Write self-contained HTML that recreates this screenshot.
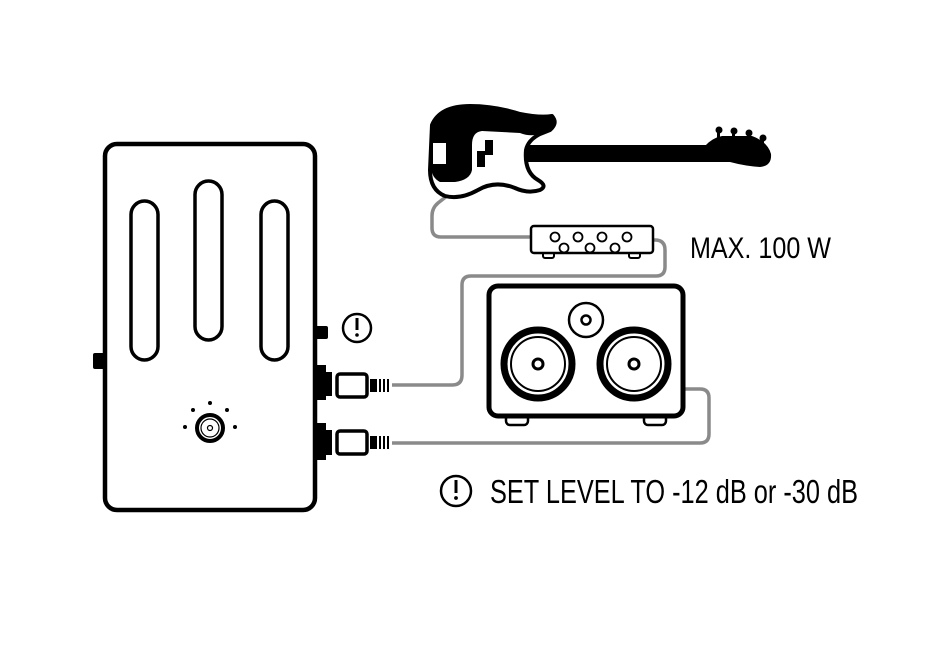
<!DOCTYPE html>
<html><head><meta charset="utf-8"><style>html,body{margin:0;padding:0;background:#fff}svg{display:block}</style></head>
<body>
<svg width="930" height="649" viewBox="0 0 930 649" xmlns="http://www.w3.org/2000/svg">
<rect width="930" height="649" fill="#fff"/>
<!-- cables -->
<g fill="none" stroke="#8a8a8a" stroke-width="3.5" stroke-linejoin="round">
<path d="M392 385 H452 Q462 385 462 375 V285 Q462 276 471 276 H656 Q665 276 665 267 V250 Q665 240 655 240 H650"/>
<path d="M392 443 H700 Q709 443 709 434 V398 Q709 389 700 389 H684"/>
<path d="M452 192 L438 203 Q432 208 432 216 V228 Q432 237 441 237 H532"/>
</g>
<!-- pedal -->
<rect x="93" y="353" width="13" height="16" rx="2" fill="#000"/>
<rect x="314" y="326" width="14" height="13" rx="2" fill="#000"/>
<rect x="105" y="144" width="210" height="366" rx="12" fill="#fff" stroke="#000" stroke-width="4.5"/>
<g fill="none" stroke="#000" stroke-width="3.5">
<rect x="131" y="201" width="27" height="159" rx="13.5"/>
<rect x="195" y="181" width="27" height="159" rx="13.5"/>
<rect x="261" y="201" width="27" height="159" rx="13.5"/>
</g>
<circle cx="210" cy="428" r="13" fill="#fff" stroke="#000" stroke-width="4"/>
<circle cx="210" cy="428" r="9" fill="none" stroke="#000" stroke-width="1.2"/>
<circle cx="210" cy="428" r="2.5" fill="none" stroke="#000" stroke-width="1.2"/>
<g fill="#000"><circle cx="185" cy="427" r="2"/><circle cx="193" cy="410" r="2"/><circle cx="210" cy="403" r="2"/><circle cx="227" cy="410" r="2"/><circle cx="235" cy="427" r="2"/></g>
<!-- jacks -->
<g fill="#000">
<path d="M316 365 H326 V372 H332 V396 H326 V400 H316Z"/>
<path d="M316 423 H326 V430 H332 V455 H326 V460 H316Z"/>
</g>
<g fill="#fff" stroke="#000" stroke-width="3.5">
<rect x="337" y="374" width="30" height="23" rx="3"/>
<rect x="337" y="431" width="30" height="23" rx="3"/>
</g>
<g fill="#000">
<rect x="370" y="379" width="7" height="13"/><rect x="379" y="379" width="2" height="13"/><rect x="383" y="379" width="2" height="13"/><rect x="387" y="379" width="2" height="13"/>
<rect x="370" y="436" width="7" height="13"/><rect x="379" y="436" width="2" height="13"/><rect x="383" y="436" width="2" height="13"/><rect x="387" y="436" width="2" height="13"/>
</g>
<!-- exclamation icons -->
<circle cx="357" cy="328" r="14" fill="none" stroke="#000" stroke-width="2.5"/>
<rect x="355.5" y="318" width="3" height="12" fill="#000"/><circle cx="357" cy="335" r="1.8" fill="#000"/>
<circle cx="456" cy="491" r="15" fill="none" stroke="#000" stroke-width="2.5"/>
<rect x="454.5" y="480" width="3" height="13" fill="#000"/><circle cx="456" cy="498" r="1.9" fill="#000"/>
<!-- cabinet -->
<rect x="506" y="412" width="22" height="13" rx="4" fill="#fff" stroke="#000" stroke-width="2.5"/>
<rect x="644" y="412" width="22" height="13" rx="4" fill="#fff" stroke="#000" stroke-width="2.5"/>
<rect x="489" y="286" width="194" height="130" rx="9" fill="#fff" stroke="#000" stroke-width="5"/>
<circle cx="586" cy="320" r="17" fill="none" stroke="#000" stroke-width="2.5"/>
<circle cx="586" cy="320" r="4.5" fill="none" stroke="#000" stroke-width="2.5"/>
<g fill="none" stroke="#000">
<circle cx="538" cy="364" r="34" stroke-width="7"/><circle cx="538" cy="364" r="27" stroke-width="2"/><circle cx="538" cy="364" r="5" stroke-width="3"/>
<circle cx="634" cy="364" r="34" stroke-width="7"/><circle cx="634" cy="364" r="27" stroke-width="2"/><circle cx="634" cy="364" r="5" stroke-width="3"/>
</g>
<!-- amp head -->
<rect x="543" y="250" width="11" height="8" rx="2" fill="#fff" stroke="#000" stroke-width="2"/>
<rect x="629" y="250" width="11" height="8" rx="2" fill="#fff" stroke="#000" stroke-width="2"/>
<rect x="531" y="226" width="122" height="27" rx="3" fill="#fff" stroke="#000" stroke-width="2.5"/>
<g fill="none" stroke="#000" stroke-width="1.8">
<circle cx="555" cy="237" r="4.5"/><circle cx="578" cy="237" r="4.5"/><circle cx="602" cy="237" r="4.5"/><circle cx="627" cy="237" r="4.5"/>
<circle cx="564" cy="248" r="4.5"/><circle cx="590" cy="248" r="4.5"/><circle cx="615" cy="248" r="4.5"/>
</g>
<!-- guitar -->
<g fill="#000">
<rect x="520" y="145" width="195" height="17"/>
<path d="M705 146 Q712 138 722 136 L752 136 Q768 142 771 154 Q772 166 760 167 Q745 166 730 162 L705 162Z"/>
<circle cx="719" cy="130" r="3.5"/><circle cx="734" cy="131" r="3.5"/><circle cx="749" cy="133" r="3.5"/><circle cx="763" cy="138" r="3.5"/>
<rect x="717" y="131" width="3" height="8"/><rect x="732" y="132" width="3" height="7"/><rect x="747" y="134" width="3" height="6"/><rect x="761" y="139" width="3" height="5"/>
</g>
<path d="M432 125 Q440 106 470 106 Q495 106 520 114 Q540 118 552 116 Q558 123 550 130 L540 134 Q528 140 526 150 Q524 172 538 180 Q548 186 540 190 Q528 194 515 188 Q495 180 478 190 Q460 200 445 196 Q430 190 430 170 Z" fill="#fff" stroke="#000" stroke-width="4" stroke-linejoin="round"/>
<path d="M432 125 Q440 106 470 106 Q495 106 520 114 Q540 118 552 116 Q558 123 550 130 L540 134 Q530 137 520 133 L482 131 Q472 132 472 145 V170 Q470 180 455 182 L440 182 Q432 178 431 168 Z" fill="#000"/>
<rect x="433" y="143" width="13" height="21" fill="#fff"/>
<rect x="477" y="151" width="8" height="16" fill="#000"/>
<rect x="485" y="140" width="8" height="15" fill="#000"/>
<!-- text -->
<text x="690" y="258" font-family="'Liberation Sans Narrow','Liberation Sans',sans-serif" font-size="30" textLength="141" lengthAdjust="spacingAndGlyphs" fill="#000">MAX. 100 W</text>
<text x="490" y="503" font-family="'Liberation Sans Narrow','Liberation Sans',sans-serif" font-size="33" textLength="368" lengthAdjust="spacingAndGlyphs" fill="#000">SET LEVEL TO -12 dB or -30 dB</text>
</svg>
</body></html>
